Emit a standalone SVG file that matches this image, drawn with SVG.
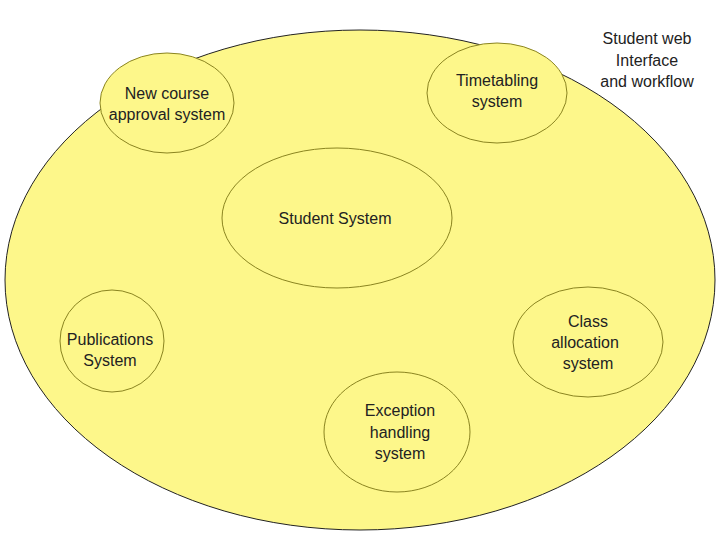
<svg xmlns="http://www.w3.org/2000/svg" width="720" height="540" viewBox="0 0 720 540">
<style>
.in{fill:#fdf78a;stroke:#8a8420;stroke-width:1}
text{font-family:"Liberation Sans",Arial,sans-serif;font-size:16px;fill:#222;text-anchor:middle}
</style>
<rect width="720" height="540" fill="#fff"/>
<g id="outer"><ellipse cx="360" cy="280" rx="355" ry="250" fill="#fdf78a" stroke="#222"/></g>
<g id="newcourse"><ellipse class="in" cx="167" cy="103" rx="67" ry="50"/><text x="167" y="99">New course</text><text x="167" y="120">approval system</text></g>
<g id="timetabling"><ellipse class="in" cx="497" cy="93" rx="70" ry="50"/><text x="497" y="86">Timetabling</text><text x="497" y="107">system</text></g>
<g id="web"><text x="647" y="44">Student web</text><text x="647" y="66">Interface</text><text x="647" y="87">and workflow</text></g>
<g id="student"><ellipse class="in" cx="337" cy="218" rx="115" ry="70"/><text x="335" y="224">Student System</text></g>
<g id="publications"><ellipse class="in" cx="112" cy="341" rx="52" ry="51"/><text x="110" y="345">Publications</text><text x="110" y="366">System</text></g>
<g id="class"><ellipse class="in" cx="588" cy="342" rx="75" ry="55"/><text x="588" y="327">Class</text><text x="585" y="348">allocation</text><text x="588" y="369">system</text></g>
<g id="exception"><ellipse class="in" cx="397" cy="432" rx="73" ry="60"/><text x="400" y="416">Exception</text><text x="400" y="438">handling</text><text x="400" y="459">system</text></g>
<g id="connectors"/>
</svg>
